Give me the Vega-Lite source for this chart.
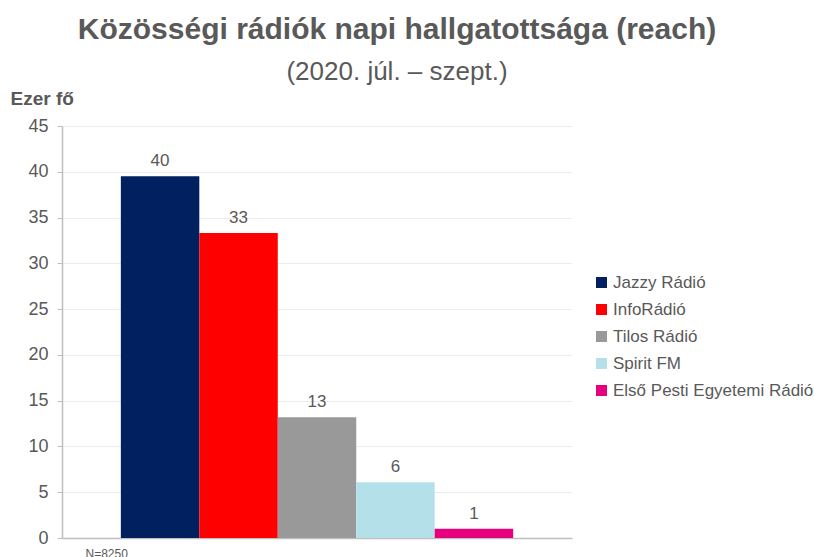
{
  "$schema": "https://vega.github.io/schema/vega-lite/v6.json",
  "autosize": {"type": "none"},
  "width": 510,
  "height": 412,
  "padding": {"left": 62, "top": 126, "right": 242, "bottom": 19},
  "background": "white",
  "config": {
    "font": "Liberation Sans",
    "view": {"stroke": null}
  },
  "title": {
    "text": "Közösségi rádiók napi hallgatottsága (reach)",
    "subtitle": "(2020. júl. – szept.)",
    "anchor": "middle",
    "frame": "group",
    "dx": 80,
    "offset": 4,
    "font": "Liberation Sans",
    "fontSize": 30,
    "fontWeight": "bold",
    "color": "#595959",
    "subtitleFont": "Liberation Sans",
    "subtitleFontSize": 26,
    "subtitleColor": "#595959",
    "subtitlePadding": 14
  },
  "data": {
    "values": [
      {"station": "Jazzy Rádió", "reach": 39.5},
      {"station": "InfoRádió", "reach": 33.3},
      {"station": "Tilos Rádió", "reach": 13.2},
      {"station": "Spirit FM", "reach": 6.1},
      {"station": "Első Pesti Egyetemi Rádió", "reach": 1.0}
    ]
  },
  "encoding": {
    "x": {
      "field": "station",
      "type": "nominal",
      "sort": null,
      "scale": {"paddingInner": 0, "paddingOuter": 0.75},
      "axis": {
        "title": "N=8250",
        "titleX": 23,
        "titleY": 10,
        "titleAlign": "left",
        "titleAnchor": "start",
        "titleBaseline": "top",
        "titleFontSize": 12,
        "titleFontWeight": "normal",
        "titleColor": "#595959",
        "labels": false,
        "ticks": false,
        "domainColor": "#bfbfbf",
        "domainWidth": 1.5
      }
    },
    "y": {
      "field": "reach",
      "type": "quantitative",
      "scale": {"domain": [0, 45], "nice": false},
      "axis": {
        "values": [0, 5, 10, 15, 20, 25, 30, 35, 40, 45],
        "grid": true,
        "gridColor": "#ececec",
        "domainColor": "#bfbfbf",
        "domainWidth": 1.5,
        "tickColor": "#bfbfbf",
        "tickSize": 5,
        "labelFontSize": 18,
        "labelColor": "#595959",
        "labelPadding": 9,
        "title": "Ezer fő",
        "titleAngle": 0,
        "titleAlign": "left",
        "titleBaseline": "alphabetic",
        "titleX": -52,
        "titleY": -22,
        "titleFontSize": 19,
        "titleFontWeight": "bold",
        "titleColor": "#595959"
      }
    }
  },
  "layer": [
    {
      "mark": {"type": "bar"},
      "encoding": {
        "color": {
          "field": "station",
          "type": "nominal",
          "sort": null,
          "scale": {
            "domain": ["Jazzy Rádió", "InfoRádió", "Tilos Rádió", "Spirit FM", "Első Pesti Egyetemi Rádió"],
            "range": ["#002060", "#ff0000", "#999999", "#b4e0ea", "#e6007e"]
          },
          "legend": {
            "title": null,
            "orient": "none",
            "legendX": 531,
            "legendY": 148,
            "symbolType": "square",
            "symbolSize": 121,
            "symbolStrokeWidth": 0,
            "labelFontSize": 17,
            "labelColor": "#595959",
            "labelOffset": 3,
            "rowPadding": 9,
            "labelLimit": 300
          }
        }
      }
    },
    {
      "mark": {"type": "text", "baseline": "alphabetic", "dy": -10, "fontSize": 17, "color": "#595959"},
      "encoding": {
        "text": {"field": "reach", "type": "quantitative", "format": ".0f"}
      }
    }
  ]
}
